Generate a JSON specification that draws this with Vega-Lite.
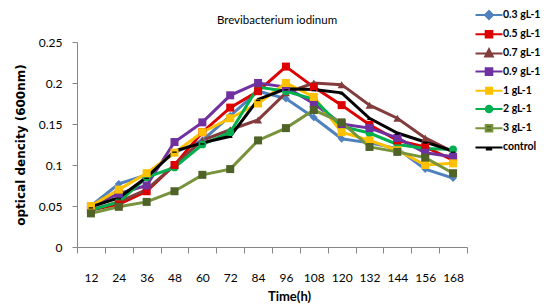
{
  "$schema": "https://vega.github.io/schema/vega-lite/v6.json",
  "width": 390,
  "height": 205,
  "autosize": {"type": "none"},
  "padding": {"left": 77, "top": 42, "right": 80, "bottom": 60},
  "background": "white",
  "config": {"view": {"stroke": null}, "axisX": {"titleAnchor": "start", "titleAlign": "center", "titleX": 212}},
  "title": {"text": "Brevibacterium iodinum", "font": "Lato", "fontSize": 11.5, "fontWeight": "normal", "color": "black", "anchor": "middle", "frame": "group", "offset": 0, "dy": 22, "dx": 5},
  "data": {"values": [
    {"t":12,"s":"0.3 gL-1","v":0.05},{"t":24,"s":"0.3 gL-1","v":0.077},{"t":36,"s":"0.3 gL-1","v":0.088},{"t":48,"s":"0.3 gL-1","v":0.115},{"t":60,"s":"0.3 gL-1","v":0.13},{"t":72,"s":"0.3 gL-1","v":0.16},{"t":84,"s":"0.3 gL-1","v":0.19},{"t":96,"s":"0.3 gL-1","v":0.181},{"t":108,"s":"0.3 gL-1","v":0.158},{"t":120,"s":"0.3 gL-1","v":0.132},{"t":132,"s":"0.3 gL-1","v":0.127},{"t":144,"s":"0.3 gL-1","v":0.12},{"t":156,"s":"0.3 gL-1","v":0.095},{"t":168,"s":"0.3 gL-1","v":0.084},
    {"t":12,"s":"0.5 gL-1","v":0.045},{"t":24,"s":"0.5 gL-1","v":0.052},{"t":36,"s":"0.5 gL-1","v":0.068},{"t":48,"s":"0.5 gL-1","v":0.1},{"t":60,"s":"0.5 gL-1","v":0.14},{"t":72,"s":"0.5 gL-1","v":0.17},{"t":84,"s":"0.5 gL-1","v":0.19},{"t":96,"s":"0.5 gL-1","v":0.22},{"t":108,"s":"0.5 gL-1","v":0.195},{"t":120,"s":"0.5 gL-1","v":0.173},{"t":132,"s":"0.5 gL-1","v":0.149},{"t":144,"s":"0.5 gL-1","v":0.13},{"t":156,"s":"0.5 gL-1","v":0.122},{"t":168,"s":"0.5 gL-1","v":0.106},
    {"t":12,"s":"0.7 gL-1","v":0.045},{"t":24,"s":"0.7 gL-1","v":0.055},{"t":36,"s":"0.7 gL-1","v":0.07},{"t":48,"s":"0.7 gL-1","v":0.1},{"t":60,"s":"0.7 gL-1","v":0.13},{"t":72,"s":"0.7 gL-1","v":0.143},{"t":84,"s":"0.7 gL-1","v":0.155},{"t":96,"s":"0.7 gL-1","v":0.188},{"t":108,"s":"0.7 gL-1","v":0.2},{"t":120,"s":"0.7 gL-1","v":0.198},{"t":132,"s":"0.7 gL-1","v":0.173},{"t":144,"s":"0.7 gL-1","v":0.157},{"t":156,"s":"0.7 gL-1","v":0.133},{"t":168,"s":"0.7 gL-1","v":0.116},
    {"t":12,"s":"0.9 gL-1","v":0.05},{"t":24,"s":"0.9 gL-1","v":0.065},{"t":36,"s":"0.9 gL-1","v":0.075},{"t":48,"s":"0.9 gL-1","v":0.128},{"t":60,"s":"0.9 gL-1","v":0.152},{"t":72,"s":"0.9 gL-1","v":0.185},{"t":84,"s":"0.9 gL-1","v":0.2},{"t":96,"s":"0.9 gL-1","v":0.195},{"t":108,"s":"0.9 gL-1","v":0.175},{"t":120,"s":"0.9 gL-1","v":0.15},{"t":132,"s":"0.9 gL-1","v":0.145},{"t":144,"s":"0.9 gL-1","v":0.133},{"t":156,"s":"0.9 gL-1","v":0.115},{"t":168,"s":"0.9 gL-1","v":0.11},
    {"t":12,"s":"1 gL-1","v":0.05},{"t":24,"s":"1 gL-1","v":0.07},{"t":36,"s":"1 gL-1","v":0.09},{"t":48,"s":"1 gL-1","v":0.115},{"t":60,"s":"1 gL-1","v":0.14},{"t":72,"s":"1 gL-1","v":0.157},{"t":84,"s":"1 gL-1","v":0.175},{"t":96,"s":"1 gL-1","v":0.2},{"t":108,"s":"1 gL-1","v":0.183},{"t":120,"s":"1 gL-1","v":0.14},{"t":132,"s":"1 gL-1","v":0.13},{"t":144,"s":"1 gL-1","v":0.118},{"t":156,"s":"1 gL-1","v":0.1},{"t":168,"s":"1 gL-1","v":0.102},
    {"t":12,"s":"2 gL-1","v":0.045},{"t":24,"s":"2 gL-1","v":0.055},{"t":36,"s":"2 gL-1","v":0.085},{"t":48,"s":"2 gL-1","v":0.097},{"t":60,"s":"2 gL-1","v":0.125},{"t":72,"s":"2 gL-1","v":0.14},{"t":84,"s":"2 gL-1","v":0.195},{"t":96,"s":"2 gL-1","v":0.19},{"t":108,"s":"2 gL-1","v":0.18},{"t":120,"s":"2 gL-1","v":0.147},{"t":132,"s":"2 gL-1","v":0.139},{"t":144,"s":"2 gL-1","v":0.125},{"t":156,"s":"2 gL-1","v":0.12},{"t":168,"s":"2 gL-1","v":0.119},
    {"t":12,"s":"3 gL-1","v":0.041},{"t":24,"s":"3 gL-1","v":0.049},{"t":36,"s":"3 gL-1","v":0.055},{"t":48,"s":"3 gL-1","v":0.068},{"t":60,"s":"3 gL-1","v":0.088},{"t":72,"s":"3 gL-1","v":0.095},{"t":84,"s":"3 gL-1","v":0.13},{"t":96,"s":"3 gL-1","v":0.145},{"t":108,"s":"3 gL-1","v":0.167},{"t":120,"s":"3 gL-1","v":0.152},{"t":132,"s":"3 gL-1","v":0.122},{"t":144,"s":"3 gL-1","v":0.116},{"t":156,"s":"3 gL-1","v":0.109},{"t":168,"s":"3 gL-1","v":0.09},
    {"t":12,"s":"control","v":0.049},{"t":24,"s":"control","v":0.06},{"t":36,"s":"control","v":0.085},{"t":48,"s":"control","v":0.117},{"t":60,"s":"control","v":0.127},{"t":72,"s":"control","v":0.135},{"t":84,"s":"control","v":0.18},{"t":96,"s":"control","v":0.193},{"t":108,"s":"control","v":0.192},{"t":120,"s":"control","v":0.188},{"t":132,"s":"control","v":0.157},{"t":144,"s":"control","v":0.139},{"t":156,"s":"control","v":0.128},{"t":168,"s":"control","v":0.117}
  ]},
  "encoding": {
    "x": {"field": "t", "type": "ordinal", "sort": "ascending",
      "scale": {"type": "band", "paddingInner": 0, "paddingOuter": 0},
      "axis": {"title": "Time(h)", "titleFont": "Lato", "titleFontWeight": "bold", "titleFontSize": 13, "titleColor": "black", "titlePadding": 7,
        "titleAnchor": "start", "titleAlign": "center", "titleX": 212,
        "labelAngle": 0, "labelFont": "Lato", "labelFontSize": 12, "labelColor": "black", "labelPadding": 19,
        "tickBand": "extent", "tickSize": 6, "tickColor": "#868686", "domainColor": "#868686", "grid": false}},
    "y": {"field": "v", "type": "quantitative",
      "scale": {"domain": [0, 0.25]},
      "axis": {"title": "optical dencity (600nm)", "titleFont": "DejaVu Sans", "titleFontWeight": "bold", "titleFontSize": 12, "titleColor": "black", "titlePadding": 11,
        "values": [0, 0.05, 0.1, 0.15, 0.2, 0.25], "format": "~g",
        "labelFont": "Lato", "labelFontSize": 12, "labelColor": "black", "labelPadding": 10,
        "tickSize": 5, "tickColor": "#868686", "domainColor": "#868686", "grid": false}}
  },
  "layer": [
    {"mark": {"type": "line", "strokeWidth": 3},
     "encoding": {"color": {"field": "s", "type": "nominal",
       "scale": {"domain": ["0.3 gL-1","0.5 gL-1","0.7 gL-1","0.9 gL-1","1 gL-1","2 gL-1","3 gL-1","control"],
                 "range": ["#4F81BD","#DD0000","#833C3C","#7030A0","#FFC000","#00B050","#77933C","#000000"]},
       "legend": {"orient": "none", "legendX": 401, "legendY": -38, "title": null,
         "labelFont": "Lato", "labelFontWeight": "bold", "labelFontSize": 10.5, "labelColor": "black", "labelOffset": 3,
         "symbolSize": 400, "symbolStrokeWidth": 2, "rowPadding": 0.2,
         "encode": {"symbols": {"update": {
           "shape": {"signal": "['M-1.35,0H1.35M0,-0.4L0.4,0L0,0.4L-0.4,0Z','M-1.35,0H1.35M-0.33,-0.33H0.33V0.33H-0.33Z','M-1.35,0H1.35M0,-0.42L0.38,0.3H-0.38Z','M-1.35,0H1.35M-0.33,-0.33H0.33V0.33H-0.33Z','M-1.35,0H1.35M-0.3,-0.3H0.3V0.3H-0.3Z','M-1.35,0H1.35M0.33,0A0.33,0.33,0,1,1,-0.33,0A0.33,0.33,0,1,1,0.33,0Z','M-1.35,0H1.35M-0.33,-0.33H0.33V0.33H-0.33Z','M-1.35,0H1.35M-0.22,0V0.22H0.22V0Z'][indexof(['0.3 gL-1','0.5 gL-1','0.7 gL-1','0.9 gL-1','1 gL-1','2 gL-1','3 gL-1','control'], datum.value)]"},
           "fill": {"signal": "['#4F81BD','#DD0000','#833C3C','#7030A0','#FFC000','#00B050','#4F6228','#000000'][indexof(['0.3 gL-1','0.5 gL-1','0.7 gL-1','0.9 gL-1','1 gL-1','2 gL-1','3 gL-1','control'], datum.value)]"},
           "stroke": {"signal": "['#4F81BD','#DD0000','#833C3C','#7030A0','#FFC000','#00B050','#77933C','#000000'][indexof(['0.3 gL-1','0.5 gL-1','0.7 gL-1','0.9 gL-1','1 gL-1','2 gL-1','3 gL-1','control'], datum.value)]"},
           "opacity": {"value": 1}, "fillOpacity": {"value": 1}}}}}}}},
    {"transform": [{"filter": "datum.s === '0.3 gL-1'"}],
     "mark": {"type": "point", "filled": true, "size": 60, "opacity": 1, "shape": "diamond", "color": "#4F81BD"}},
    {"transform": [{"filter": "datum.s === '0.7 gL-1'"}],
     "mark": {"type": "point", "filled": true, "size": 65, "opacity": 1, "shape": "triangle-up", "color": "#833C3C"}},
    {"transform": [{"filter": "datum.s === '2 gL-1'"}],
     "mark": {"type": "point", "filled": true, "size": 60, "opacity": 1, "shape": "circle", "color": "#00B050"}},
    {"transform": [{"filter": "datum.s === '0.5 gL-1' || datum.s === '0.9 gL-1' || datum.s === '1 gL-1' || datum.s === '3 gL-1'"}],
     "mark": {"type": "point", "filled": true, "size": 64, "opacity": 1, "shape": "square"},
     "encoding": {"fill": {"field": "s", "type": "nominal", "legend": null,
       "scale": {"domain": ["0.5 gL-1","0.9 gL-1","1 gL-1","3 gL-1"], "range": ["#DD0000","#7030A0","#FFC000","#4F6228"]}}}},
    {"transform": [{"filter": "datum.s === 'control'"}],
     "mark": {"type": "point", "filled": true, "size": 40, "opacity": 1, "shape": "M-0.7,0.15H0.7V0.55H-0.7Z", "color": "#000000"}}
  ]
}
